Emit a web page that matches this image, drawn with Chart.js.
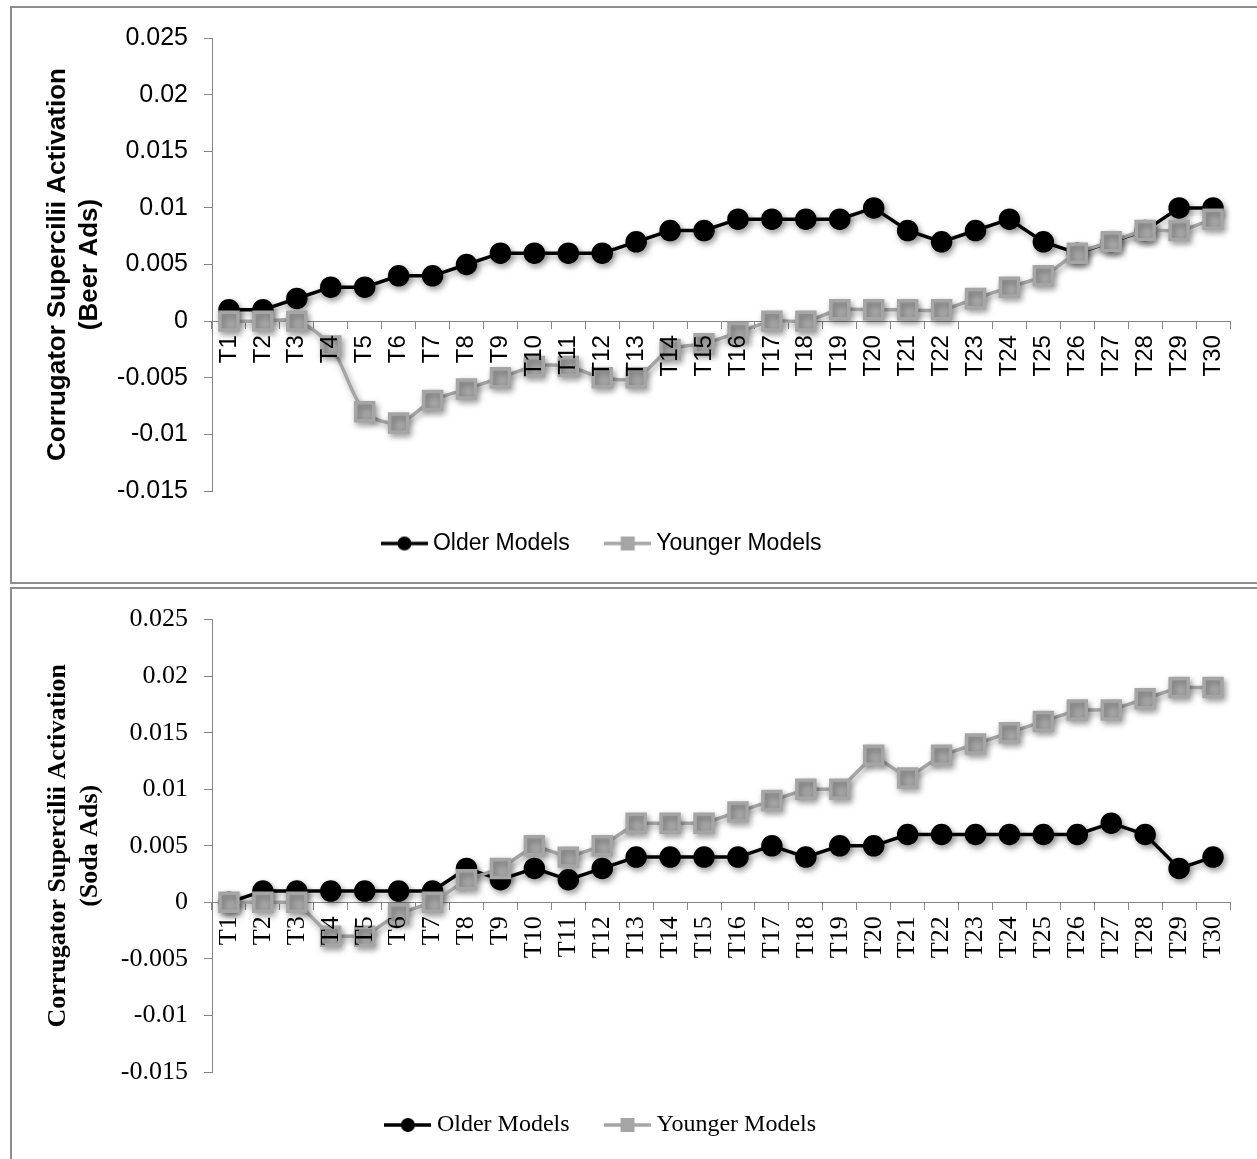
<!DOCTYPE html>
<html>
<head>
<meta charset="utf-8">
<title>Corrugator Supercilii Activation</title>
<script src="https://cdn.jsdelivr.net/npm/chart.js@4.4.1/dist/chart.umd.min.js"></script>
<style>
  html, body { margin: 0; padding: 0; background: #fff; }
  body { position: relative; width: 1257px; height: 1159px; overflow: hidden; }
  .frame { position: absolute; left: 10px; width: 1300px; box-sizing: border-box; border: 2px solid #8e8e8e; }
  #beerFrame { top: 6px; height: 578px; }
  #sodaFrame { top: 587px; height: 620px; }
  canvas { position: absolute; left: -40px; }
  #beerChart { top: 7px; }
  #sodaChart { top: 588px; }
</style>
</head>
<body>
<div class="frame" id="beerFrame"></div>
<div class="frame" id="sodaFrame"></div>
<canvas id="beerChart" width="1300" height="575"></canvas>
<canvas id="sodaChart" width="1300" height="575"></canvas>
<script>
const timePoints = ["T1", "T2", "T3", "T4", "T5", "T6", "T7", "T8", "T9", "T10",
  "T11", "T12", "T13", "T14", "T15", "T16", "T17", "T18", "T19", "T20",
  "T21", "T22", "T23", "T24", "T25", "T26", "T27", "T28", "T29", "T30"];

// beer ads
const beerOlder = [0.001, 0.001, 0.002, 0.003, 0.003, 0.004, 0.004, 0.005, 0.006, 0.006,
  0.006, 0.006, 0.007, 0.008, 0.008, 0.009, 0.009, 0.009, 0.009, 0.010,
  0.008, 0.007, 0.008, 0.009, 0.007, 0.006, 0.007, 0.008, 0.010, 0.010];
const beerYounger = [0, 0, 0, -0.0022, -0.008, -0.009, -0.007, -0.006, -0.005, -0.004,
  -0.004, -0.005, -0.005, -0.0025, -0.002, -0.001, 0, 0, 0.001, 0.001,
  0.001, 0.001, 0.002, 0.003, 0.004, 0.006, 0.007, 0.008, 0.008, 0.009];

// soda ads
const sodaOlder = [0, 0.001, 0.001, 0.001, 0.001, 0.001, 0.001, 0.003, 0.002, 0.003,
  0.002, 0.003, 0.004, 0.004, 0.004, 0.004, 0.005, 0.004, 0.005, 0.005,
  0.006, 0.006, 0.006, 0.006, 0.006, 0.006, 0.007, 0.006, 0.003, 0.004];
const sodaYounger = [0, 0, 0, -0.003, -0.003, -0.001, 0, 0.002, 0.003, 0.005,
  0.004, 0.005, 0.007, 0.007, 0.007, 0.008, 0.009, 0.010, 0.010, 0.013,
  0.011, 0.013, 0.014, 0.015, 0.016, 0.017, 0.017, 0.018, 0.019, 0.019];

const yMin = -0.015;
const yMax = 0.025;
const yStep = 0.005;
const yTickLabels = ["-0.015", "-0.01", "-0.005", "0", "0.005", "0.01", "0.015", "0.02", "0.025"];

const BLACK = "#000000";
const GREY = "#a5a5a5";
const AXIS = "#868686";

// soft drop shadow under lines and markers
const markerShadow = {
  id: "markerShadow",
  beforeDatasetsDraw(chart) {
    const ctx = chart.ctx;
    ctx.save();
    ctx.shadowColor = "rgba(0, 0, 0, 0.35)";
    ctx.shadowBlur = 6;
    ctx.shadowOffsetX = 2;
    ctx.shadowOffsetY = 3;
  },
  afterDatasetsDraw(chart) {
    chart.ctx.restore();
  },
};

// line-through-marker swatch for the legend
function legendIcon(color, shape) {
  const c = document.createElement("canvas");
  c.width = 47;
  c.height = 20;
  const g = c.getContext("2d");
  g.strokeStyle = color;
  g.fillStyle = color;
  g.lineWidth = 3.5;
  g.beginPath();
  g.moveTo(0, 10);
  g.lineTo(47, 10);
  g.stroke();
  if (shape === "circle") {
    g.beginPath();
    g.arc(23.5, 10, 7, 0, Math.PI * 2);
    g.fill();
  } else {
    g.fillRect(16.5, 3, 14, 14);
  }
  return c;
}
const legendIcons = [legendIcon(BLACK, "circle"), legendIcon(GREY, "rect")];

function buildChart(id, older, younger, o) {
  const plotLeft = 252;
  const plotBottom = 484;
  const height = 575;
  const legendPad = 41;
  const padBottom = height - plotBottom - (o.legendSize + legendPad + 10);

  return new Chart(document.getElementById(id), {
    type: "line",
    data: {
      labels: timePoints,
      datasets: [
        {
          label: "Older Models",
          data: older,
          borderColor: BLACK,
          backgroundColor: BLACK,
          pointBackgroundColor: BLACK,
          pointBorderColor: BLACK,
          pointStyle: "circle",
          pointRadius: 9,
          borderWidth: 3.5,
          tension: 0,
          order: 2,
        },
        {
          label: "Younger Models",
          data: younger,
          borderColor: GREY,
          backgroundColor: GREY,
          pointBackgroundColor: GREY,
          pointBorderColor: GREY,
          pointStyle: "rect",
          pointRadius: 12.7,
          borderWidth: 3.5,
          tension: o.youngerTension,
          order: 1,
        },
      ],
    },
    options: {
      responsive: false,
      animation: false,
      events: [],
      layout: { padding: { left: o.padLeft, right: 30, top: 30, bottom: padBottom } },
      scales: {
        x: {
          type: "category",
          offset: true,
          position: { y: 0 },
          grid: { drawOnChartArea: false, offset: true, tickLength: 7, color: AXIS },
          border: { color: AXIS, width: 1 },
          ticks: {
            z: 1, // category names sit on top of the series
            autoSkip: false,
            minRotation: 90,
            maxRotation: 90,
            padding: 7,
            color: BLACK,
            font: { family: o.family, size: o.xSize },
          },
        },
        y: {
          min: yMin,
          max: yMax,
          afterFit(scale) {
            scale.width = plotLeft - o.padLeft;
          },
          grid: { drawOnChartArea: false, tickLength: 8, color: AXIS },
          border: { color: AXIS, width: 1 },
          ticks: {
            stepSize: yStep,
            padding: 16,
            color: BLACK,
            font: { family: o.family, size: o.ySize },
            callback: (v) => yTickLabels[Math.round((v - yMin) / yStep)],
          },
          title: {
            display: true,
            text: o.title,
            color: BLACK,
            font: { family: o.family, size: 26, weight: "bold", lineHeight: "32px" },
            padding: { top: 98 - o.padLeft - 16, bottom: 0 },
          },
        },
      },
      plugins: {
        legend: {
          position: "bottom",
          labels: {
            usePointStyle: true,
            pointStyleWidth: 34,
            padding: legendPad,
            color: BLACK,
            font: { family: o.family, size: o.legendSize },
            generateLabels(chart) {
              const items = Chart.defaults.plugins.legend.labels.generateLabels(chart);
              items.forEach((it) => { it.pointStyle = legendIcons[it.datasetIndex]; });
              return items;
            },
            sort: (a, b) => a.datasetIndex - b.datasetIndex,
          },
        },
        tooltip: { enabled: false },
      },
    },
    plugins: [markerShadow],
  });
}

buildChart("beerChart", beerOlder, beerYounger, {
  family: "'Liberation Sans', Arial, sans-serif",
  title: ["Corrugator Supercilii Activation", "(Beer Ads)"],
  xSize: 24,
  ySize: 25,
  legendSize: 23,
  padLeft: 19,
  youngerTension: 0.3,
});

buildChart("sodaChart", sodaOlder, sodaYounger, {
  family: "'Liberation Serif', 'Times New Roman', serif",
  title: ["Corrugator Supercilii Activation", "(Soda Ads)"],
  xSize: 26,
  ySize: 26,
  legendSize: 24,
  padLeft: 17,
  youngerTension: 0,
});
</script>
</body>
</html>
